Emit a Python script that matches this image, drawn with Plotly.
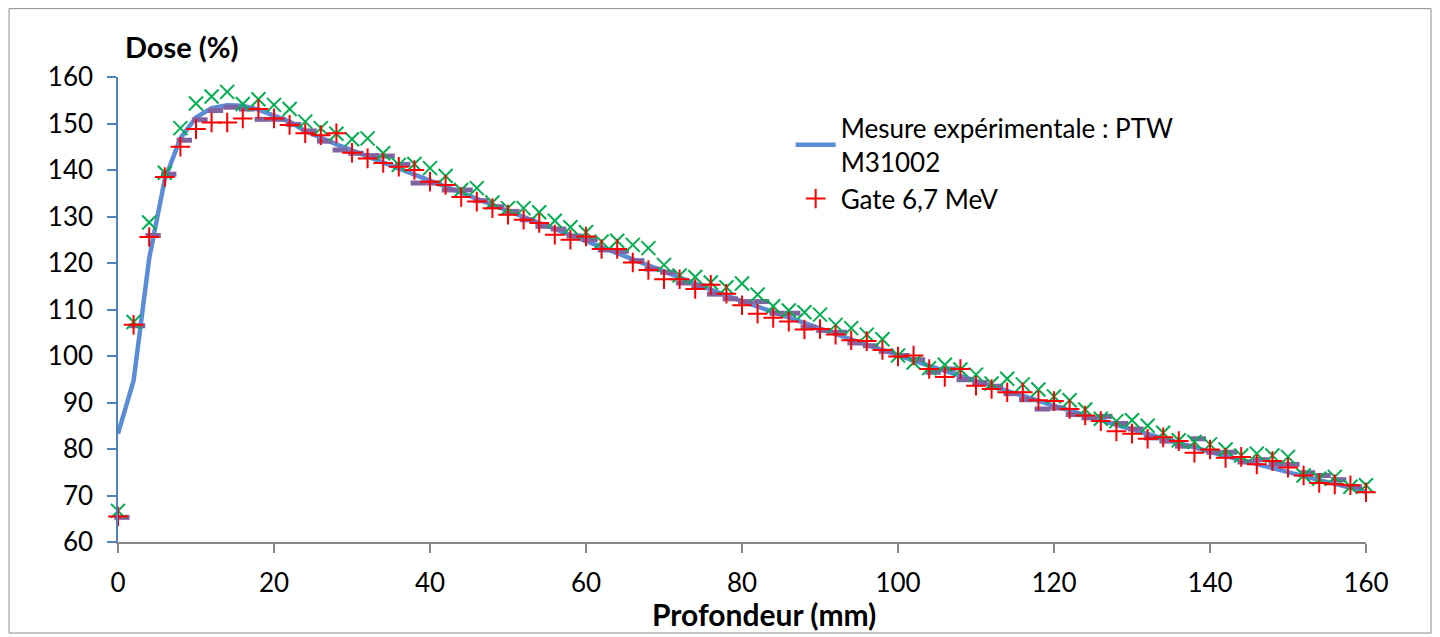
import plotly.graph_objects as go

# ---------------------------------- DATA ---------------------------------- #
depth_mm = list(range(0, 161, 2))

mesure_ptw = [
    83.3, 94.7, 121.0, 138.0, 146.8, 151.3, 153.3, 153.9, 153.8, 153.0,
    151.7, 150.4, 148.4, 146.9, 145.5, 144.2, 142.9, 141.6, 140.2, 138.9,
    137.5, 136.2, 134.9, 133.6, 132.3, 131.0, 129.7, 128.4, 127.1, 125.8,
    124.5, 123.2, 121.9, 120.6, 119.3, 118.0, 116.8, 115.5, 114.3, 113.0,
    111.8, 110.6, 109.4, 108.2, 107.1, 105.9, 104.7, 103.6, 102.4, 101.3,
    100.1, 99.0, 97.9, 96.8, 95.7, 94.6, 93.5, 92.5, 91.4, 90.4,
    89.3, 88.3, 87.2, 86.2, 85.2, 84.2, 83.2, 82.3, 81.3, 80.4,
    79.4, 78.5, 77.6, 76.7, 75.9, 75.0, 74.2, 73.3, 72.5, 71.6,
    70.8,
]

gate_67 = [
    65.5, 106.7, 125.6, 138.5, 145.0, 148.8, 150.2, 150.2, 151.1, 153.1,
    151.1, 149.7, 147.9, 147.5, 147.9, 143.7, 142.5, 141.5, 140.7, 140.0,
    137.5, 136.8, 134.2, 133.2, 131.8, 130.4, 129.3, 128.6, 126.1, 125.0,
    125.7, 123.0, 123.0, 120.1, 118.5, 116.5, 116.5, 114.4, 115.3, 113.4,
    110.9, 109.1, 108.2, 107.4, 105.7, 105.8, 104.6, 103.4, 103.2, 101.3,
    99.9, 100.1, 97.2, 95.5, 97.2, 93.6, 92.9, 92.2, 92.2, 90.5,
    90.3, 88.6, 87.2, 86.0, 83.8, 83.3, 82.2, 82.5, 81.7, 79.2,
    79.9, 78.1, 78.3, 76.7, 77.4, 76.0, 74.3, 72.7, 72.4, 72.2,
    70.7,
]

gate_green = [
    66.7, 107.3, 128.7, 139.4, 149.0, 154.3, 155.8, 156.8, 154.2, 155.2,
    154.0, 153.1, 150.4, 149.0, 147.8, 146.6, 146.8, 143.6, 141.1, 141.3,
    140.4, 138.7, 135.7, 136.1, 133.0, 131.8, 131.8, 130.9, 129.1, 127.7,
    126.6, 124.6, 124.8, 123.9, 123.2, 119.6, 117.3, 117.0, 115.8, 114.8,
    115.6, 113.2, 110.7, 109.8, 109.4, 108.9, 106.7, 106.0, 104.6, 103.6,
    100.1, 98.6, 97.4, 98.1, 97.1, 96.0, 94.1, 95.1, 93.9, 92.8,
    91.3, 90.5, 88.5, 86.5, 86.0, 86.2, 85.0, 83.5, 81.9, 81.5,
    81.0, 79.9, 78.6, 79.0, 78.6, 78.3, 74.3, 73.6, 74.0, 71.9,
    72.2,
]

gate_purple = [
    65.3, 106.5, 125.9, 139.1, 146.4, 150.8, 152.8, 153.5, 153.1, 150.9,
    150.9, 149.8, 148.4, 146.2, 144.3, 143.6, 143.1, 143.0, 141.2, 137.2,
    137.2, 135.7, 135.7, 133.4, 132.1, 131.1, 129.3, 127.9, 127.3, 125.8,
    125.0, 122.8, 122.5, 120.5, 118.7, 118.0, 115.7, 115.1, 113.3, 112.3,
    111.7, 111.7, 109.2, 109.2, 106.2, 105.5, 105.1, 102.8, 102.2, 101.0,
    100.1, 99.2, 96.5, 97.2, 94.9, 94.3, 93.5, 91.9, 90.6, 88.6,
    88.8, 87.4, 86.7, 87.0, 85.5, 84.3, 82.4, 81.7, 80.6, 82.2,
    79.3, 79.3, 77.2, 77.7, 76.7, 76.7, 74.9, 74.3, 73.4, 71.9,
    70.9,
]

# -------------------------------- FIGURE ---------------------------------- #
FONT = 'Lato, Carlito, Calibri, sans-serif'

fig = go.Figure()

fig.add_trace(go.Scatter(
    x=depth_mm, y=mesure_ptw, mode='lines',
    name='Mesure expérimentale : PTW<br>M31002',
    line=dict(color='#5B8DD6', width=4.5),
    cliponaxis=False,
))
# dash markers sit slightly right of their x value in the original
fig.add_trace(go.Scatter(
    x=[d + 0.5 for d in depth_mm], y=gate_purple, mode='markers',
    showlegend=False,
    marker=dict(symbol='line-ew-open', size=11, color='#8064A2',
                line=dict(width=5)),
    cliponaxis=False,
))
fig.add_trace(go.Scatter(
    x=depth_mm, y=gate_green, mode='markers',
    showlegend=False,
    marker=dict(symbol='x-thin-open', size=14, color='#00B050',
                line=dict(width=2)),
    cliponaxis=False,
))
fig.add_trace(go.Scatter(
    x=depth_mm, y=gate_67, mode='markers',
    name='Gate 6,7 MeV',
    marker=dict(symbol='cross-thin-open', size=14, color='#FF0000',
                line=dict(width=2)),
    cliponaxis=False,
))

fig.update_xaxes(
    range=[0, 160], dtick=20, showgrid=False, zeroline=False,
    showline=True, linecolor='#868686', linewidth=1.5,
    ticks='outside', ticklen=9, tickcolor='#868686', tickwidth=1.5,
    ticklabelstandoff=8,
    tickfont=dict(family=FONT, size=26, color='#000000'),
)
fig.update_yaxes(
    range=[60, 160], dtick=10, showgrid=False, zeroline=False,
    showline=True, linecolor='#4F81BD', linewidth=1.5,
    ticks='outside', ticklen=9, tickcolor='#4F81BD', tickwidth=1.5,
    ticklabelstandoff=9,
    tickfont=dict(family=FONT, size=26, color='#000000'),
)

# the page has an 8px body margin, so the figure is 8px smaller than the window
fig.update_layout(
    width=1432, height=629,
    margin=dict(l=110, r=74, t=69, b=95),
    paper_bgcolor='white', plot_bgcolor='white',
    font=dict(family=FONT, size=26, color='#000000'),
    legend=dict(
        x=0.539, y=0.941, xanchor='left', yanchor='top',
        bgcolor='rgba(0,0,0,0)', font=dict(family=FONT, size=26),
        tracegroupgap=0, itemwidth=40,
    ),
    annotations=[
        dict(text='<b>Dose (%)</b>', xref='paper', yref='paper',
             x=0.004, y=1.065, xanchor='left', yanchor='middle',
             showarrow=False, font=dict(family=FONT, size=29)),
        dict(text='<b>Profondeur (mm)</b>', xref='paper', yref='paper',
             x=0.518, y=-0.155, xanchor='center', yanchor='middle',
             showarrow=False, font=dict(family=FONT, size=30)),
    ],
    shapes=[
        dict(type='rect', xref='paper', yref='paper',
             x0=-0.0873, x1=1.0521, y0=-0.1957, y1=1.147,
             line=dict(color='#8C8C8C', width=1), fillcolor='rgba(0,0,0,0)'),
    ],
)

fig.write_html('out.html')
